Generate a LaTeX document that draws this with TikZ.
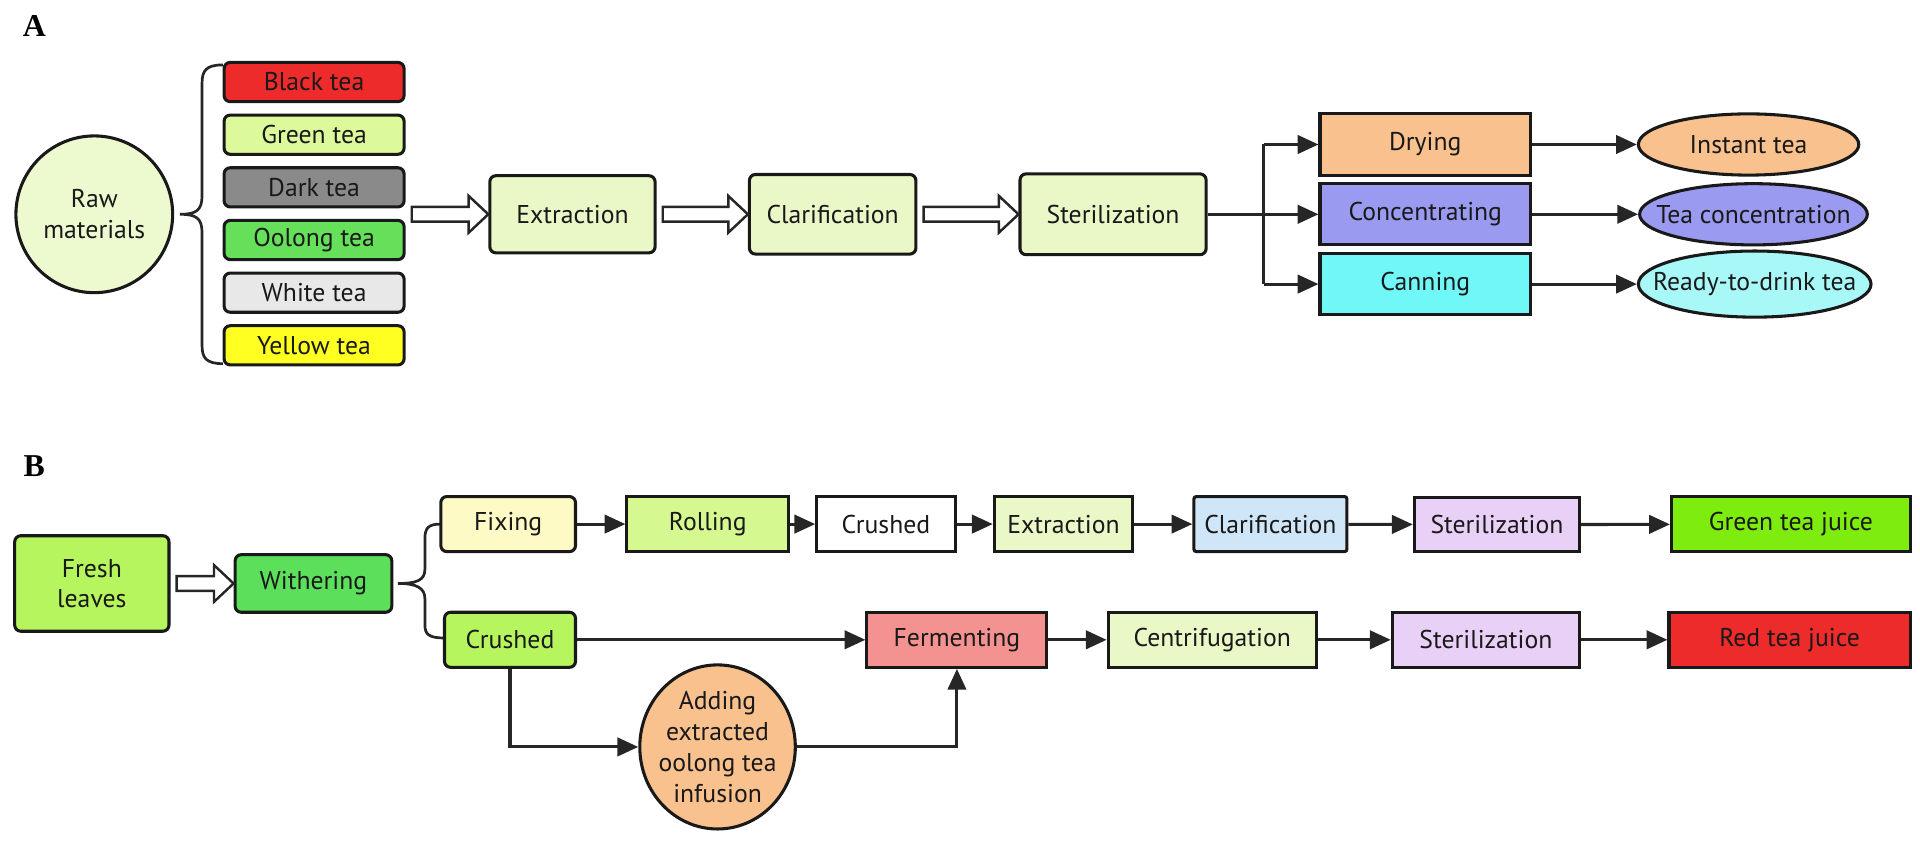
\documentclass[tikz,border=0pt]{standalone}
\usepackage{fontspec}
\setmainfont{PT Sans}
\newfontfamily\panelfont{Liberation Serif}
\usetikzlibrary{arrows.meta,calc,shapes.geometric}

\definecolor{rawfill}{HTML}{EDF9CF}
\definecolor{teablack}{HTML}{EE2B2B}
\definecolor{teagreen}{HTML}{DCF99C}
\definecolor{teadark}{HTML}{8A8A8A}
\definecolor{teaoolong}{HTML}{66E05A}
\definecolor{teawhite}{HTML}{E8E8E8}
\definecolor{teayellow}{HTML}{FFFF22}
\definecolor{stepfill}{HTML}{EAF8C8}
\definecolor{peach}{HTML}{F9C18E}
\definecolor{violet}{HTML}{9A9AF0}
\definecolor{cyanbox}{HTML}{70F8F8}
\definecolor{cyanoval}{HTML}{A8F8F8}
\definecolor{leafgreen}{HTML}{B6F55E}
\definecolor{withergreen}{HTML}{5CE05C}
\definecolor{cream}{HTML}{FDFAC5}
\definecolor{rollgreen}{HTML}{D6F891}
\definecolor{skyblue}{HTML}{CFE6F9}
\definecolor{lavender}{HTML}{E8D0F7}
\definecolor{juicegreen}{HTML}{7FEC0F}
\definecolor{salmon}{HTML}{F49191}

% hollow arrow from one node to the next
\def\hollowarrow(#1)(#2){\draw[line width=2pt, draw=black!85, fill=white] let \p1=(#1.east), \p2=(#2.west) in
  (\x1+5pt,\y2+6pt) -- (\x2-16pt,\y2+6pt) -- (\x2-16pt,\y2+15pt) -- (\x2,\y2) -- (\x2-16pt,\y2-15pt) -- (\x2-16pt,\y2-6pt) -- (\x1+5pt,\y2-6pt) -- cycle;}

\tikzset{
  box/.style={draw=black!90, line width=2.5pt, inner sep=0pt, text=black!90, font=\fontsize{21}{25}\selectfont, align=center},
  rbox/.style={box, rounded corners=5pt},
  oval/.style={box, ellipse},
  arr/.style={line width=2.5pt, draw=black!85, -{Triangle[length=17pt,width=15pt]}},
  ln/.style={line width=2.5pt, draw=black!85},
  panel/.style={font=\panelfont\bfseries\fontsize{26}{28}\selectfont, inner sep=0pt}
}

\begin{document}
\begin{tikzpicture}[x=1pt, y=-1pt]
		\useasboundingbox (0,0) rectangle (1568,693);
		
		%%%%% PART A %%%%%
		\node[panel] (labA) at (28,21) {A};
		
		\node[box, circle, minimum size=128pt, fill=rawfill] (raw) at (77,175) {Raw\\materials};
		
		\draw[ln, line width=2.2pt] (182,53) .. controls (168,53) and (165,58) .. (165,68) -- (165,160)
			.. controls (165,172) and (160,175) .. (147,175)
			.. controls (160,175) and (165,178) .. (165,190) -- (165,282)
			.. controls (165,292) and (168,297) .. (182,297);
		
		\foreach \name/\col/\y/\txt in {black/teablack/67/Black tea, green/teagreen/110/Green tea,
			dark/teadark/153/Dark tea, oolong/teaoolong/196/Oolong tea,
			white/teawhite/239/White tea, yellow/teayellow/282/Yellow tea}
			\node[rbox, minimum width=147pt, minimum height=32pt, fill=\col] (\name) at (256.5,\y) {\txt};
		
		\node[rbox, minimum width=135pt, minimum height=63pt, fill=stepfill] (ext) at (467.5,175) {Extraction};
		\node[rbox, minimum width=136pt, minimum height=65pt, fill=stepfill] (clar) at (680,175) {Clarification};
		\node[rbox, minimum width=152pt, minimum height=66pt, fill=stepfill] (ster) at (909,175) {Sterilization};
		
		\hollowarrow(dark)(ext);
		\hollowarrow(ext)(clar);
		\hollowarrow(clar)(ster);
		
		\node[box, minimum width=172pt, minimum height=50pt, fill=peach] (dry) at (1164,118) {Drying};
		\node[box, minimum width=172pt, minimum height=50pt, fill=violet] (conc) at (1164,175) {Concentrating};
		\node[box, minimum width=172pt, minimum height=50pt, fill=cyanbox] (can) at (1164,232) {Canning};
		
		\coordinate (fork) at (1032,175);
		\draw[ln] (ster.east) -- (fork);
		\draw[ln] (fork |- dry.west) -- (fork |- can.west);
		\draw[arr] (fork |- dry.west) -- (dry.west);
		\draw[arr] (fork) -- (conc.west);
		\draw[arr] (fork |- can.west) -- (can.west);
		
		\node[oval, minimum width=180pt, minimum height=50pt, fill=peach] (instant) at (1428,118) {\makebox[0pt]{Instant tea}};
		\node[oval, minimum width=186pt, minimum height=50pt, fill=violet] (teaconc) at (1432,175) {\makebox[0pt]{Tea concentration}};
		\node[oval, minimum width=190pt, minimum height=54pt, fill=cyanoval] (rtd) at (1433,232) {\makebox[0pt]{Ready-to-drink tea}};
		
		\draw[arr] (dry) -- (instant);
		\draw[arr] (conc) -- (teaconc);
		\draw[arr] (can) -- (rtd);
		
		%%%%% PART B %%%%%
		\node[panel] (labB) at (28,381) {B};
		
		\node[rbox, minimum width=126pt, minimum height=78pt, fill=leafgreen] (fresh) at (75,476.5) {Fresh\\leaves};
		\node[rbox, minimum width=128pt, minimum height=47pt, fill=withergreen] (wither) at (256,476.5) {Withering};
		\hollowarrow(fresh)(wither);
		
		\draw[ln, line width=2.2pt] (360,428) .. controls (350,428) and (347,431) .. (347,440) -- (347,465)
			.. controls (347,474) and (340,476.5) .. (325,476.5)
			.. controls (340,476.5) and (347,480) .. (347,489) -- (347,510)
			.. controls (347,518) and (350,521) .. (363,521);
		
		% green tea line
		\node[rbox, minimum width=110pt, minimum height=45pt, fill=cream] (fixing) at (415,428) {Fixing};
		\node[box, minimum width=132pt, minimum height=45pt, fill=rollgreen] (rolling) at (578,428) {Rolling};
		\node[box, minimum width=113pt, minimum height=45pt, fill=white] (crushA) at (723.5,428) {Crushed};
		\node[box, minimum width=113pt, minimum height=45pt, fill=stepfill] (extB) at (868.5,428) {Extraction};
		\node[box, rounded corners=2pt, minimum width=125pt, minimum height=45pt, fill=skyblue] (clarB) at (1037.5,428) {Clarification};
		\node[box, minimum width=135pt, minimum height=44pt, fill=lavender] (sterB) at (1222.5,428.5) {Sterilization};
		\node[box, minimum width=195pt, minimum height=45pt, fill=juicegreen] (gtj) at (1462.5,428) {Green tea juice};
		
		\draw[arr] (fixing) -- (rolling);
		\draw[arr] (rolling) -- (crushA);
		\draw[arr] (crushA) -- (extB);
		\draw[arr] (extB) -- (clarB);
		\draw[arr] (clarB) -- (sterB);
		\draw[arr] (sterB) -- (gtj);
		
		% red tea line
		\node[rbox, minimum width=107pt, minimum height=45pt, fill=leafgreen] (crushB) at (416.5,522.5) {Crushed};
		\node[box, minimum width=147pt, minimum height=45pt, fill=salmon] (ferm) at (781.5,522.5) {Fermenting};
		\node[box, minimum width=170pt, minimum height=45pt, fill=stepfill] (centri) at (990,522.5) {Centrifugation};
		\node[box, minimum width=153pt, minimum height=45pt, fill=lavender] (sterC) at (1213.5,522.5) {Sterilization};
		\node[box, minimum width=197pt, minimum height=45pt, fill=teablack] (rtj) at (1461.5,522.5) {Red tea juice};
		\node[oval, minimum width=127pt, minimum height=134pt, fill=peach,
			label={[font=\fontsize{21}{25.5}\selectfont, align=center, text=black!90]center:Adding\\extracted\\oolong tea\\infusion}] (adding) at (586,610) {};
		
		\draw[arr] (crushB) -- (ferm);
		\draw[arr] (crushB.south) |- (adding.west);
		\draw[arr] (adding.east) -| (ferm.south);
		\draw[arr] (ferm) -- (centri);
		\draw[arr] (centri) -- (sterC);
		\draw[arr] (sterC) -- (rtj);
		
	\end{tikzpicture}
\end{document}
